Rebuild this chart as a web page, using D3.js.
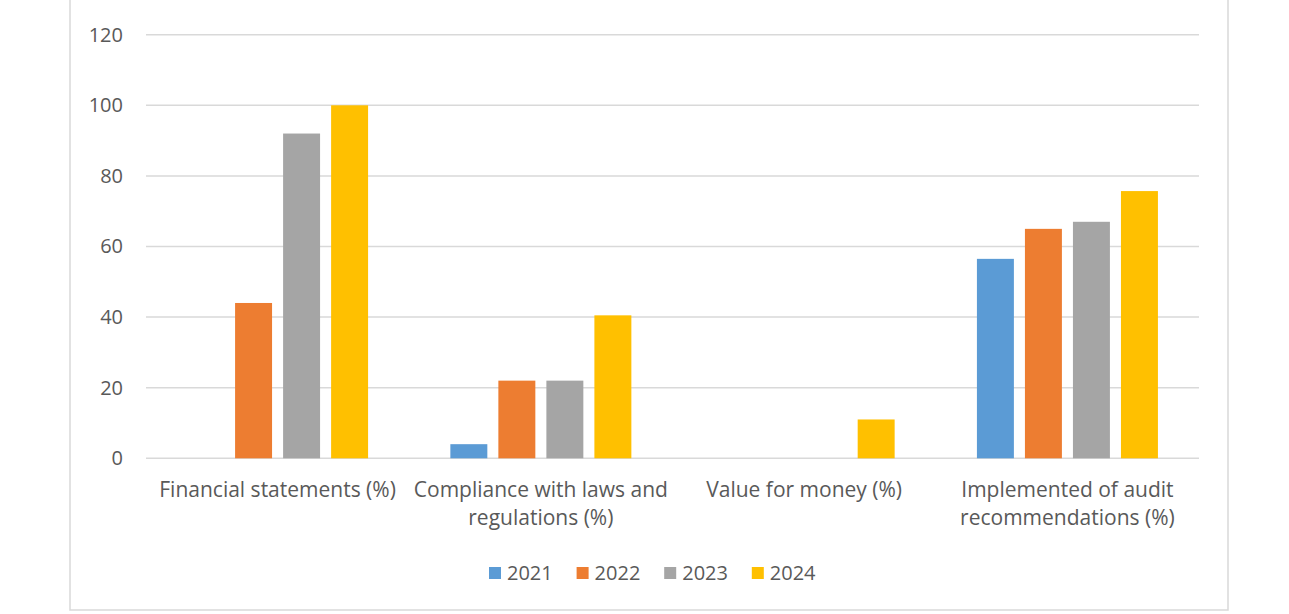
<!DOCTYPE html>
<html>
<head>
<meta charset="utf-8">
<script src="https://cdn.jsdelivr.net/npm/d3@7"></script>
<style>
  body { margin: 0; background: #fff; }
  text { font-family: "Open Sans", "Noto Sans", sans-serif; fill: #595959; }
</style>
</head>
<body>
<svg id="chart" width="1289" height="614"></svg>
<script>
// categories (line breaks as in the picture)
const categories = [
  "Financial statements (%)",
  "Compliance with laws and\nregulations (%)",
  "Value for money (%)",
  "Implemented of audit\nrecommendations (%)"
];
const years = ["2021", "2022", "2023", "2024"];
const v2021 = [0, 4, 0, 56.5];
const v2022 = [44, 22, 0, 65];
const v2023 = [92, 22, 0, 67];
const v2024 = [100, 40.5, 11, 75.7];
const yTicks = [0, 20, 40, 60, 80, 100, 120];
const colors = ["#5b9bd5", "#ed7d31", "#a5a5a5", "#ffc000"];

const series = [v2021, v2022, v2023, v2024];
const data = categories.map((c, i) => ({
  cat: c,
  vals: years.map((y, j) => ({ year: y, value: series[j][i] }))
}));

const svg = d3.select("#chart");

// outer chart border
svg.append("rect")
  .attr("x", 70).attr("y", -10)
  .attr("width", 1158).attr("height", 620)
  .attr("fill", "#fff")
  .attr("stroke", "#d9d9d9")
  .attr("stroke-width", 1.5);

const plotLeft = 146, plotRight = 1199, plotTop = 34.7, plotBottom = 458.3;

const y = d3.scaleLinear().domain([0, 120]).range([plotBottom, plotTop]);
const x0 = d3.scaleBand().domain(categories).range([plotLeft, plotRight])
  .paddingInner(0.3125).paddingOuter(0.156);
const x1 = d3.scaleBand().domain(years).range([0, x0.bandwidth()])
  .paddingInner(0.23).paddingOuter(0);
const color = d3.scaleOrdinal().domain(years).range(colors);

// gridlines
svg.append("g")
  .selectAll("line")
  .data(yTicks)
  .join("line")
  .attr("x1", plotLeft).attr("x2", plotRight)
  .attr("y1", d => y(d)).attr("y2", d => y(d))
  .attr("stroke", "#d9d9d9")
  .attr("stroke-width", 1.5);

// y axis labels
const yAxis = d3.axisLeft(y).tickValues(yTicks).tickSize(0).tickPadding(0);
const yg = svg.append("g")
  .attr("transform", `translate(123,0)`)
  .call(yAxis);
yg.select(".domain").remove();
yg.selectAll("text")
  .attr("font-size", 20)
  .attr("fill", "#595959")
  .style("font-family", '"Open Sans", "Noto Sans", sans-serif');

// bars
svg.append("g")
  .selectAll("g")
  .data(data)
  .join("g")
  .attr("transform", d => `translate(${x0(d.cat)},0)`)
  .selectAll("rect")
  .data(d => d.vals.filter(v => v.value > 0))
  .join("rect")
  .attr("x", d => x1(d.year))
  .attr("y", d => y(d.value))
  .attr("width", x1.bandwidth())
  .attr("height", d => plotBottom - y(d.value))
  .attr("fill", d => color(d.year));

// category labels
const xg = svg.append("g");
data.forEach(d => {
  const lines = d.cat.split("\n");
  const t = xg.append("text")
    .attr("x", x0(d.cat) + x0.bandwidth() / 2)
    .attr("y", 497)
    .attr("text-anchor", "middle")
    .attr("font-size", 21);
  lines.forEach((l, i) => {
    t.append("tspan")
      .attr("x", x0(d.cat) + x0.bandwidth() / 2)
      .attr("dy", i === 0 ? 0 : 28)
      .text(l);
  });
});

// legend
const legend = svg.append("g").attr("transform", "translate(489,0)");
const item = legend.selectAll("g")
  .data(years)
  .join("g")
  .attr("transform", (d, i) => `translate(${i * 87.6},0)`);
item.append("rect")
  .attr("x", 0).attr("y", 567)
  .attr("width", 12).attr("height", 12)
  .attr("fill", d => color(d));
item.append("text")
  .attr("x", 18).attr("y", 580)
  .attr("font-size", 20)
  .text(d => d);
</script>
</body>
</html>
